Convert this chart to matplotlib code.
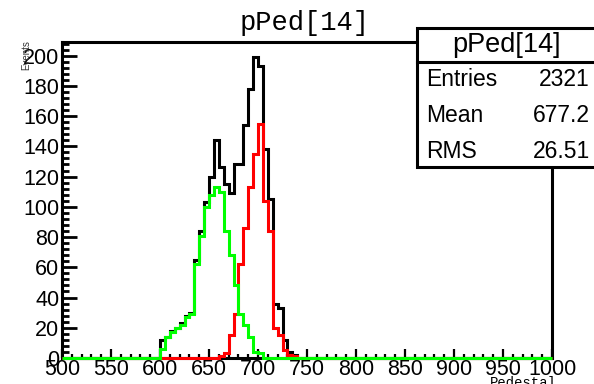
import numpy as np
import matplotlib
matplotlib.use("Agg")
import matplotlib.pyplot as plt
from matplotlib.patches import Rectangle
from matplotlib.lines import Line2D

# ---- data ----
bin_width = 5
x_range = (500, 1000)
first_bin = 600  # lower edge of the first listed bin
black_counts = [12, 14, 18, 20, 23, 28, 30, 65, 84, 103, 120, 144, 126, 115, 109,
                128, 128, 154, 178, 199, 193, 138, 105, 36, 33, 12, 4, 2]
green_counts = [6, 14, 17, 20, 22, 27, 29, 62, 81, 100, 108, 113, 110, 84, 68,
                48, 29, 22, 14, 4, 3]
red_first_bin = 660
red_counts = [1, 3, 15, 29, 62, 86, 113, 135, 155, 104, 84, 20, 15, 5, 2, 1]
title = "pPed[14]"
stats_labels = ["Entries", "Mean", "RMS"]
stats_values = ["2321", "677.2", "26.51"]
xticks = [500, 550, 600, 650, 700, 750, 800, 850, 900, 950, 1000]
yticks = [0, 20, 40, 60, 80, 100, 120, 140, 160, 180, 200]

edges = np.arange(x_range[0], x_range[1] + bin_width, bin_width)
nb = len(edges) - 1

def full(counts, start):
    v = np.zeros(nb)
    i0 = (start - x_range[0]) // bin_width
    v[i0:i0 + len(counts)] = counts
    return v

black = full(black_counts, first_bin)
green = full(green_counts, first_bin)
red = full(red_counts, red_first_bin)

W, H = 594, 384
fig = plt.figure(figsize=(W / 100, H / 100), dpi=100)
fig.patch.set_facecolor("white")

L, R, T, B = 62, 552, 42, 358
ax = fig.add_axes([L / W, 1 - B / H, (R - L) / W, (B - T) / H])

lw = 2.2
ax.stairs(black, edges, color="black", lw=lw, zorder=3, clip_on=False)
ax.stairs(red, edges, color="#ff0000", lw=lw, zorder=4, clip_on=False)
ax.stairs(green, edges, color="#00ff00", lw=lw, zorder=5, clip_on=False)

ax.set_xlim(x_range)
ax.set_ylim(0, 209)
for s in ax.spines.values():
    s.set_linewidth(2.2)
    s.set_zorder(2)

sans = "Liberation Sans"
ax.set_xticks(xticks)
ax.set_yticks(yticks)
ax.set_xticks(np.arange(500, 1001, 10), minor=True)
ax.set_yticks(np.arange(0, 209, 4), minor=True)
ax.tick_params(axis="x", which="major", direction="in", length=6.5, width=1.6, pad=1)
ax.tick_params(axis="x", which="minor", direction="in", length=3.2, width=1.6)
ax.tick_params(axis="y", which="major", direction="in", length=10.5, width=2.0, pad=2)
ax.tick_params(axis="y", which="minor", direction="in", length=5.2, width=2.0)
ax.tick_params(top=False, right=False, which="both")
ax.set_xticklabels([str(t) for t in xticks], fontsize=15.5, fontfamily=sans)
ax.set_yticklabels([str(t) for t in yticks], fontsize=15.5, fontfamily=sans)

# axis titles (tiny, ROOT style)
fig.text(557 / W, 1 - 376 / H, "Pedestal", ha="right", va="top",
         fontsize=10, fontfamily="Liberation Mono")
fig.text(26 / W, 1 - 40 / H, "Events", ha="center", va="top", rotation=90,
         fontsize=7, fontfamily=sans, color="#333333")

# title
fig.text(305 / W, 1 - 23 / H, title, ha="center", va="center",
         fontsize=19.5, fontfamily="Liberation Mono")

# stats box
bx0, by0, bx1, by1 = 417, 28, 597, 167
fig.patches.append(Rectangle((bx0 / W, 1 - by1 / H), (bx1 - bx0) / W, (by1 - by0) / H,
                             transform=fig.transFigure, facecolor="white",
                             edgecolor="black", lw=2.2, zorder=10))
fig.lines.append(Line2D([bx0 / W, bx1 / W], [1 - 62 / H, 1 - 62 / H],
                        transform=fig.transFigure, color="black", lw=2.2, zorder=11))
fig.text(506 / W, 1 - 45 / H, title, ha="center", va="center",
         fontsize=19.5, fontfamily=sans, zorder=12)
rows_y = [80, 116, 152]
for lab, val, yy in zip(stats_labels, stats_values, rows_y):
    fig.text(426 / W, 1 - yy / H, lab, ha="left", va="center",
             fontsize=16.5, fontfamily=sans, zorder=12)
    fig.text(590 / W, 1 - yy / H, val, ha="right", va="center",
             fontsize=16.5, fontfamily=sans, zorder=12)

fig.savefig("out.png", dpi=100)
